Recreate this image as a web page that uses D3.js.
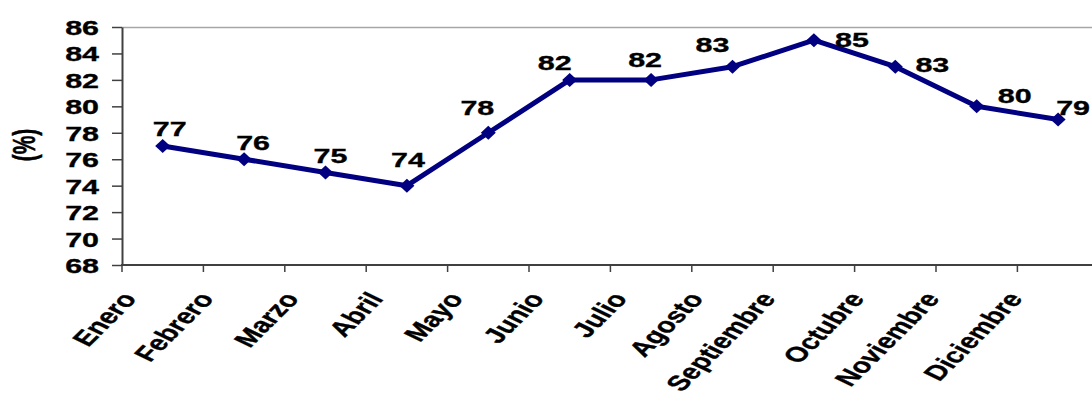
<!DOCTYPE html>
<html>
<head>
<meta charset="utf-8">
<script src="https://cdn.jsdelivr.net/npm/d3@7"></script>
<style>
  html, body { margin: 0; padding: 0; background: #fff; overflow: hidden; }
  svg { display: block; }
  text { font-family: "Liberation Sans", Arial, sans-serif; font-weight: bold; fill: #000;
         stroke: #000; stroke-width: 0.35px; }
</style>
</head>
<body>
<svg id="chart" width="1092" height="399"></svg>
<script>
// Monthly percentage series
const months = ["Enero", "Febrero", "Marzo", "Abril", "Mayo", "Junio", "Julio",
                "Agosto", "Septiembre", "Octubre", "Noviembre", "Diciembre"];
const values = [77, 76, 75, 74, 78, 82, 82, 83, 85, 83, 80, 79];
const yTicks = [68, 70, 72, 74, 76, 78, 80, 82, 84, 86];
const yTitle = "(%)";

// Hand-placed nudges for the value labels (px, relative to each point)
const labelNudge = [
  [7, -18], [9, -17], [5, -17], [1, -26], [-11, -25], [-15, -17],
  [-6, -20], [-20, -22], [38, -1], [37, -2], [38, -11], [15, -12]
];

const SX = 1.45;          // horizontal stretch applied to all text
const FONT = 21;
const svg = d3.select("#chart");

const plotLeft = 122, plotTop = 27, plotBottom = 265;
const step = 81.4;
const x = d3.scaleBand().domain(months).range([plotLeft, plotLeft + step * months.length]);
const y = d3.scaleLinear().domain([68, 86]).range([plotBottom, plotTop]);

// Plot-area border (top edge)
svg.append("line")
  .attr("x1", plotLeft).attr("x2", 1092)
  .attr("y1", plotTop + 0.5).attr("y2", plotTop + 0.5)
  .attr("stroke", "#a6a6a6").attr("stroke-width", 1.5);

// Y axis
const yAxis = svg.append("g")
  .attr("transform", `translate(${plotLeft},0)`)
  .call(d3.axisLeft(y).tickValues(yTicks).tickSize(10).tickSizeOuter(0).tickFormat(d3.format("d")));
yAxis.select(".domain").attr("stroke", "#404040").attr("stroke-width", 2);
yAxis.selectAll(".tick line").attr("stroke", "#404040").attr("stroke-width", 1.5);
yAxis.selectAll(".tick text")
  .attr("x", null).attr("dy", null)
  .attr("text-anchor", "end")
  .attr("transform", `translate(-23,7.5) scale(${SX},1)`)
  .style("font-size", FONT + "px");

// X axis with ticks on category boundaries
const xAxisG = svg.append("g").attr("transform", `translate(0,${plotBottom})`);
xAxisG.append("line")
  .attr("x1", plotLeft - 1).attr("x2", 1092)
  .attr("stroke", "#404040").attr("stroke-width", 2);
const bounds = d3.range(months.length).map(i => x(months[i]));
xAxisG.selectAll("line.tk").data(bounds).join("line")
  .attr("class", "tk")
  .attr("x1", d => d).attr("x2", d => d)
  .attr("y1", 0).attr("y2", 7)
  .attr("stroke", "#404040").attr("stroke-width", 1.5);

// Rotated month labels; longer names sit a little further left
const rot = 55;
xAxisG.selectAll("text.month").data(months).join("text")
  .attr("class", "month")
  .attr("text-anchor", "end")
  .style("font-size", FONT + "px")
  .text(d => d)
  .attr("transform", function (d) {
    const len = this.getComputedTextLength();
    const ax = x(d) + x.bandwidth() / 2 - 12 - 0.22 * len;
    return `translate(${ax},${34}) scale(${SX},1) rotate(-${rot})`;
  });

// Y axis title
svg.append("text")
  .attr("text-anchor", "middle")
  .attr("transform", `translate(35,145) scale(${SX},1) rotate(-90)`)
  .style("font-size", FONT + "px")
  .text(yTitle);

// Series line
const cx = (d, i) => x(months[i]) + x.bandwidth() / 2;
const line = d3.line().x((d, i) => cx(d, i)).y(d => y(d));
svg.append("path")
  .datum(values)
  .attr("fill", "none")
  .attr("stroke", "#000080")
  .attr("stroke-width", 5)
  .attr("stroke-linejoin", "round")
  .attr("d", line);

// Diamond markers
svg.selectAll("path.marker").data(values).join("path")
  .attr("class", "marker")
  .attr("transform", (d, i) => `translate(${cx(d, i)},${y(d)})`)
  .attr("d", "M0,-7L7.5,0L0,7L-7.5,0Z")
  .attr("fill", "#000080");

// Value labels
svg.selectAll("text.val").data(values).join("text")
  .attr("class", "val")
  .attr("text-anchor", "middle")
  .attr("transform", (d, i) => `translate(${cx(d, i) + labelNudge[i][0]},${y(d) + labelNudge[i][1] + 7.5}) scale(${SX},1)`)
  .style("font-size", FONT + "px")
  .text(d => d);
</script>
</body>
</html>
